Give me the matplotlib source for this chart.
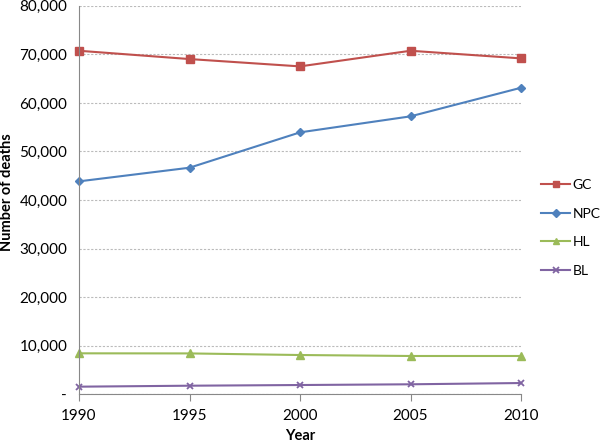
import matplotlib
matplotlib.use("Agg")
import matplotlib.pyplot as plt
from matplotlib.ticker import FuncFormatter

years = [1990, 1995, 2000, 2005, 2010]
gc = [70740, 69030, 67520, 70740, 69170]
npc = [43840, 46650, 53930, 57230, 63120]
hl = [8420, 8400, 8070, 7870, 7870]
bl = [1550, 1750, 1890, 2040, 2300]
yticks = [0, 10000, 20000, 30000, 40000, 50000, 60000, 70000, 80000]

plt.rcParams['font.family'] = ['Lato', 'DejaVu Sans']

fig = plt.figure(figsize=(6, 4.43), dpi=100)
ax = fig.add_axes([79/600, 1-394.2/443, (521-79)/600, (394.2-5.8)/443])

ax.plot(years, gc, color='#C0504D', marker='s', markersize=6, lw=1.5, label='GC')
ax.plot(years, npc, color='#4F81BD', marker='D', markersize=4.5, lw=1.5, label='NPC')
ax.plot(years, hl, color='#9BBB59', marker='^', markersize=6, lw=1.5, label='HL')
ax.plot(years, bl, color='#8064A2', marker='x', markersize=5, mew=1.3, lw=1.5, label='BL')

ax.set_xlim(1990, 2010)
ax.set_ylim(0, 80000)
ax.set_xticks(years)
ax.set_yticks(yticks)
ax.yaxis.set_major_formatter(FuncFormatter(lambda v, p: '-' if v == 0 else f'{int(v):,}'))
ax.grid(axis='y', color='#BBBBBB', linestyle=(0, (2, 1.5)), lw=0.8)
ax.set_axisbelow(True)
for s in ['top', 'right']:
    ax.spines[s].set_visible(False)
for s in ['left', 'bottom']:
    ax.spines[s].set_color('#888888')
ax.tick_params(axis='y', length=0, pad=8.5, labelsize=11)
ax.tick_params(axis='x', length=5, color='#888888', direction='out', pad=6, labelsize=11)
ax.set_xlabel('Year', fontweight='bold', fontsize=10.5, labelpad=4)
ax.set_ylabel('Number of deaths', fontweight='bold', fontsize=10.5)
ax.yaxis.set_label_coords(7/600, 1-192/443, transform=fig.transFigure)
ax.yaxis.label.set_va('center')
for l in ax.lines:
    l.set_clip_on(False)

leg = ax.legend(loc='upper left', bbox_to_anchor=(541/600, 1-179/443),
                bbox_transform=fig.transFigure, frameon=False, borderpad=0, borderaxespad=0,
                fontsize=10, handlelength=2.1, labelspacing=1.2, handletextpad=0.15,
                markerscale=0.8)

fig.savefig('out.png', dpi=100)
